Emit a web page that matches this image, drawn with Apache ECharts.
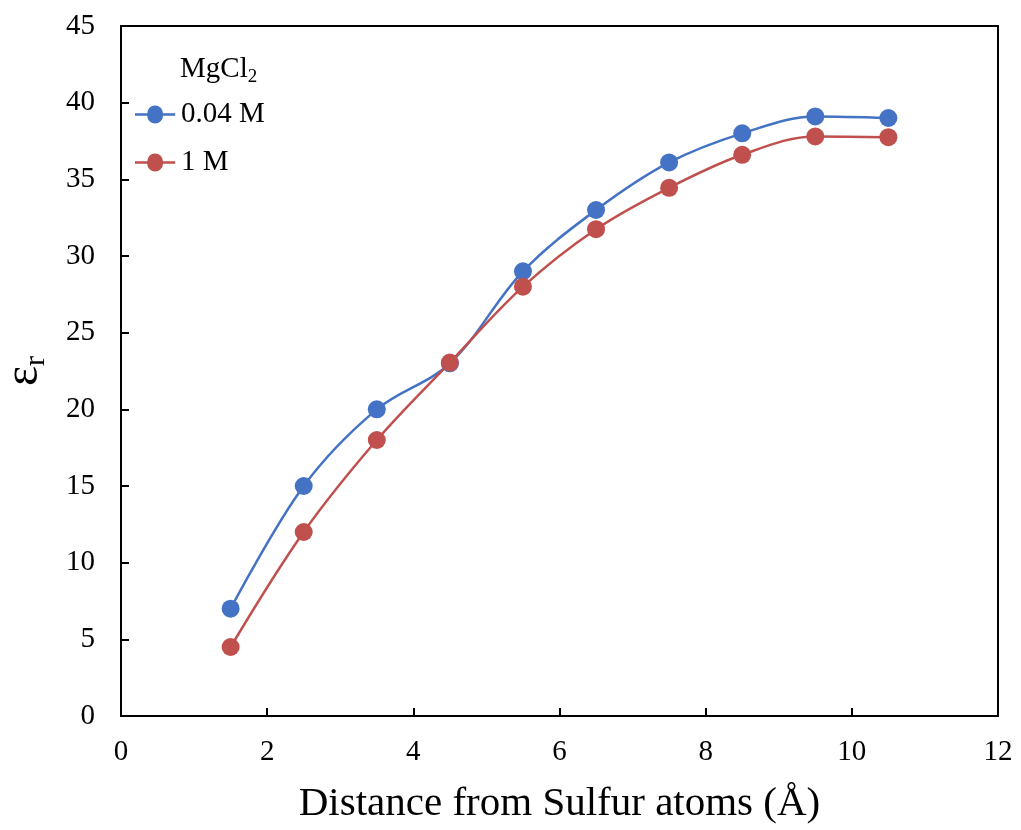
<!DOCTYPE html>
<html><head><meta charset="utf-8">
<script src="https://cdn.jsdelivr.net/npm/echarts@6/dist/echarts.min.js"></script>
<style>html,body{margin:0;padding:0;background:#fff}#c{width:1021px;height:830px}</style>
</head><body><div id="c"></div>
<script>
const distance = [1.5, 2.5, 3.5, 4.5, 5.5, 6.5, 7.5, 8.5, 9.5, 10.5];
const eps004 = [7.0, 15.0, 20.0, 23.0, 29.0, 33.0, 36.1, 38.0, 39.1, 39.0];
const eps1 = [4.5, 12.0, 18.0, 23.05, 28.0, 31.75, 34.45, 36.6, 37.8, 37.75];
const seriesNames = ['0.04 M', '1 M'];
const colors = ['#4472C4', '#C0504D'];
const FONT = 'Liberation Serif';

const chart = echarts.init(document.getElementById('c'));
function pairs(v){ return distance.map((d,i)=>[d, v[i]]); }
const legendIcon = 'path://M0,8.7L14,8.7A9,9 0 0,1 32,8.7L46,8.7L46,11.3L32,11.3A9,9 0 0,1 14,11.3L0,11.3Z';
chart.setOption({
  animation: false,
  grid: {left: 121, right: 23, top: 26, bottom: 114, outerBoundsMode: 'none'},
  xAxis: {
    type: 'value', min: 0, max: 12, interval: 2,
    name: 'Distance from Sulfur atoms (Å)', nameLocation: 'middle', nameGap: 68,
    nameTextStyle: {fontFamily: FONT, fontSize: 41, color: '#000'},
    axisLine: {show: true, onZero: false, lineStyle: {color: '#000', width: 2}},
    axisTick: {show: true, inside: true, length: 8, lineStyle: {color: '#000', width: 2}},
    axisLabel: {fontFamily: FONT, fontSize: 29, color: '#000', margin: 22},
    splitLine: {show: false}
  },
  yAxis: {
    type: 'value', min: 0, max: 45, interval: 5,
    name: '{e|ε}{s|r}', nameLocation: 'middle', nameGap: 70, nameRotate: 90,
    nameTextStyle: {rich: {
      e: {fontFamily: FONT, fontSize: 48, color: '#000'},
      s: {fontFamily: FONT, fontSize: 30, color: '#000', padding: [24, 0, 0, 0]}
    }},
    axisLine: {show: true, lineStyle: {color: '#000', width: 2}},
    axisTick: {show: true, inside: true, length: 8, lineStyle: {color: '#000', width: 2}},
    axisLabel: {fontFamily: FONT, fontSize: 29, color: '#000', margin: 26},
    splitLine: {show: false}
  },
  legend: {
    orient: 'vertical', left: 135, top: 100, itemGap: 19,
    itemWidth: 46, itemHeight: 18, icon: legendIcon, padding: 0,
    textStyle: {fontFamily: FONT, fontSize: 29, color: '#000', padding: [0,0,0,-2]},
    data: seriesNames
  },
  graphic: [
    {type: 'rect', shape: {x: 121, y: 26, width: 877, height: 690}, style: {fill: 'none', stroke: '#000', lineWidth: 2}, silent: true, z: 0},
    {type: 'text', left: 180, top: 55, style: {
      text: '{a|MgCl}{b|2}', rich: {
        a: {fontFamily: FONT, fontSize: 29, fill: '#000'},
        b: {fontFamily: FONT, fontSize: 19, fill: '#000', padding: [16,0,0,0]}
      }}}
  ],
  series: [eps004, eps1].map((v, i) => ({
    name: seriesNames[i], type: 'line', data: pairs(v), smooth: 0.35,
    symbol: 'circle', symbolSize: 18,
    lineStyle: {color: colors[i], width: 2.5},
    itemStyle: {color: colors[i]}
  }))
});
</script></body></html>
